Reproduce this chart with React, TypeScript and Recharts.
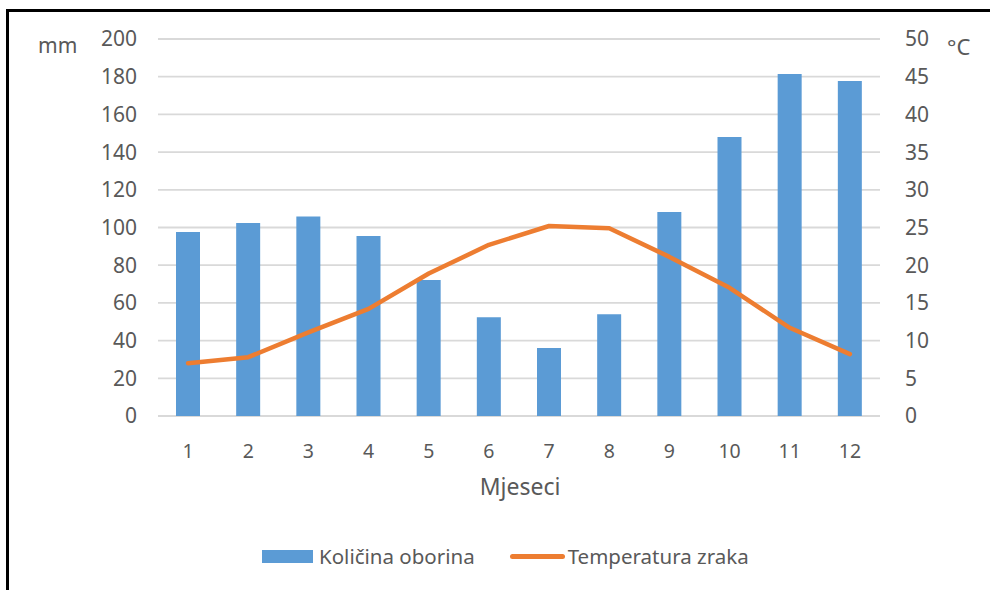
import { ComposedChart, Bar, Line, XAxis, YAxis, CartesianGrid } from "recharts";

const months = ["1", "2", "3", "4", "5", "6", "7", "8", "9", "10", "11", "12"];
const precipitation = [97.6, 102.4, 105.9, 95.5, 72.1, 52.4, 36.1, 54, 108.2, 148, 181.4, 177.7];
const temperature = [7.0, 7.8, 11.1, 14.2, 18.9, 22.7, 25.2, 24.9, 21.1, 17.0, 11.7, 8.2];
const mmTicks = [0, 20, 40, 60, 80, 100, 120, 140, 160, 180, 200];
const tempTicks = [0, 5, 10, 15, 20, 25, 30, 35, 40, 45, 50];

const data = months.map((m, i) => ({
  month: m,
  oborine: precipitation[i],
  temp: temperature[i],
}));

const FONT = "'Noto Sans', sans-serif";
const GREY = "#595959";
const BLUE = "#5b9bd5";
const ORANGE = "#ed7d31";

export default function App() {
  return (
    <div
      style={{
        position: "absolute",
        left: 0,
        top: 0,
        width: 990,
        height: 590,
        overflow: "hidden",
        background: "#fff",
        fontFamily: FONT,
      }}
    >
      {/* frame */}
      <div
        style={{
          position: "absolute",
          left: 6,
          top: 9,
          width: 1100,
          height: 700,
          borderLeft: "3px solid #000",
          borderTop: "3px solid #000",
        }}
      />

      <ComposedChart
        width={990}
        height={590}
        data={data}
        margin={{ top: 39, right: 0, bottom: 144, left: 0 }}
        style={{ position: "absolute", left: 0, top: 0 }}
      >
        <CartesianGrid vertical={false} stroke="#d9d9d9" strokeWidth={1.8} yAxisId="mm" />
        <XAxis
          dataKey="month"
          height={30}
          axisLine={false}
          tickLine={false}
          tickMargin={22}
          tick={{ fill: GREY, fontSize: 19.5, fontFamily: FONT }}
        />
        <YAxis
          yAxisId="mm"
          orientation="left"
          width={158}
          domain={[0, 200]}
          ticks={mmTicks}
          interval={0}
          axisLine={false}
          tickLine={false}
          tickMargin={15}
          tick={{ fill: GREY, fontSize: 21, fontFamily: FONT }}
        />
        <YAxis
          yAxisId="t"
          orientation="right"
          width={110}
          domain={[0, 50]}
          ticks={tempTicks}
          interval={0}
          axisLine={false}
          tickLine={false}
          tickMargin={19}
          tick={{ fill: GREY, fontSize: 21, fontFamily: FONT, textAnchor: "start" }}
        />
        <Bar yAxisId="mm" dataKey="oborine" fill={BLUE} barSize={24} isAnimationActive={false} />
        <Line
          yAxisId="t"
          dataKey="temp"
          type="linear"
          stroke={ORANGE}
          strokeWidth={4.5}
          strokeLinecap="round"
          strokeLinejoin="round"
          dot={false}
          activeDot={false}
          isAnimationActive={false}
        />
      </ComposedChart>

      {/* axis titles */}
      <div style={{ position: "absolute", left: 38, top: 31, fontSize: 21, color: GREY }}>mm</div>
      <div style={{ position: "absolute", left: 947, top: 31, fontSize: 22, color: GREY }}>°C</div>
      <div
        style={{
          position: "absolute",
          left: 420,
          width: 200,
          top: 470,
          textAlign: "center",
          fontSize: 23,
          color: GREY,
        }}
      >
        Mjeseci
      </div>

      {/* legend */}
      <div
        style={{
          position: "absolute",
          left: 262,
          top: 541,
          height: 30,
          display: "flex",
          alignItems: "center",
          fontSize: 20.5,
          color: GREY,
        }}
      >
        <span style={{ display: "inline-block", width: 51, height: 13, background: BLUE, marginRight: 6 }} />
        <span>Količina oborina</span>
        <span
          style={{
            display: "inline-block",
            width: 55,
            height: 5,
            borderRadius: 3,
            background: ORANGE,
            marginLeft: 35,
            marginRight: 3,
          }}
        />
        <span>Temperatura zraka</span>
      </div>
    </div>
  );
}
